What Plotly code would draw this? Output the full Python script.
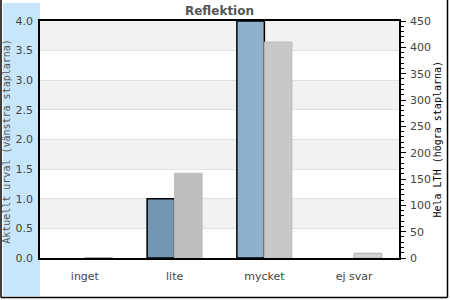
import plotly.graph_objects as go

categories = ["inget", "lite", "mycket", "ej svar"]
left_values = [None, 1.0, 4.0, None]
right_values = [1, 161, 410, 9]
left_colors = ["#7596b0", "#7596b0", "#8fb1cc", "#8fb1cc"]
right_colors = ["#bebebe", "#bebebe", "#c8c8c8", "#d3d3d3"]
right_lines = ["#aaaaaa", "#bebebe", "#bbbbbb", "#aaaaaa"]
left_ticks = [0, 0.5, 1, 1.5, 2, 2.5, 3, 3.5, 4]
right_ticks = [0, 50, 100, 150, 200, 250, 300, 350, 400, 450]

fig = go.Figure()
fig.add_trace(go.Bar(
    x=categories, y=left_values, yaxis="y", offsetgroup="1",
    marker=dict(color=left_colors, line=dict(color="black", width=1.5)),
    hoverinfo="skip"))
fig.add_trace(go.Bar(
    x=categories, y=right_values, yaxis="y2", offsetgroup="2",
    marker=dict(color=right_colors, line=dict(color=right_lines, width=1)),
    hoverinfo="skip"))

shapes = []
# alternating background bands
for i in range(0, len(left_ticks) - 1):
    if i % 2 == 1:
        shapes.append(dict(type="rect", xref="paper", yref="y",
                           x0=0, x1=1, y0=left_ticks[i], y1=left_ticks[i + 1],
                           fillcolor="#f2f2f2", line=dict(width=0), layer="below"))
# light blue band on the left
shapes.append(dict(type="rect", xref="paper", yref="paper",
                   x0=-37 / 359, x1=0, y0=-38 / 237, y1=1 + 18 / 237,
                   fillcolor="#c8e6fa", line=dict(width=0), layer="below"))
# outer frame (left, right, bottom)
fx0, fx1, fy0, fy1 = -39 / 359, 1 + 48.5 / 359, -39.5 / 237, 1 + 22 / 237
for (a, b, c, d) in [(fx0, fy0, fx0, fy1), (fx1, fy0, fx1, fy1), (fx0, fy0, fx1, fy0)]:
    shapes.append(dict(type="line", xref="paper", yref="paper",
                       x0=a, y0=b, x1=c, y1=d, line=dict(color="black", width=1.5)))

fig.update_layout(
    width=450, height=300,
    margin=dict(l=40, r=51, t=21, b=42),
    paper_bgcolor="white", plot_bgcolor="white",
    barmode="group", bargap=0.387, bargroupgap=0,
    showlegend=False,
    shapes=shapes,
    font=dict(family="DejaVu Sans", size=11, color="#444"),
    title=dict(text="<b>Reflektion</b>", x=0.5, xref="paper", y=1 - 11 / 300,
               yanchor="middle", font=dict(family="DejaVu Sans", size=12, color="#555")),
    xaxis=dict(showline=True, linecolor="black", linewidth=1.5, mirror=True,
               ticks="", ticklabelstandoff=7,
               tickfont=dict(size=11, color="#444"), showgrid=False),
    yaxis=dict(range=[0, 4], tickvals=left_ticks,
               ticktext=[f"{v:.1f}" for v in left_ticks],
               showline=True, linecolor="black", linewidth=1.5,
               showgrid=True, gridcolor="#e0e0e0", gridwidth=1,
               ticks="", ticklabelstandoff=3,
               tickfont=dict(size=11, color="#444"), zeroline=False),
    yaxis2=dict(range=[0, 450], tickvals=right_ticks, overlaying="y", side="right",
                showline=True, linecolor="black", linewidth=1.5,
                showgrid=False, zeroline=False,
                ticks="outside", ticklen=5, tickcolor="black",
                ticklabelstandoff=2,
                minor=dict(dtick=10, ticks="outside", ticklen=3, tickcolor="black", showgrid=False),
                tickfont=dict(size=11, color="#444")),
    annotations=[
        dict(text="Aktuellt urval (vänstra staplarna)", textangle=-90,
             xref="paper", yref="paper", x=-33 / 359, y=0.49, showarrow=False,
             xanchor="center", yanchor="middle",
             font=dict(family="DejaVu Sans Mono", size=10, color="#555")),
        dict(text="Hela LTH (högra staplarna)", textangle=-90,
             xref="paper", yref="paper", x=1 + 38 / 359, y=0.5, showarrow=False,
             xanchor="center", yanchor="middle",
             font=dict(family="DejaVu Sans Mono", size=10, color="black")),
    ],
)

fig.write_html("out.html")
